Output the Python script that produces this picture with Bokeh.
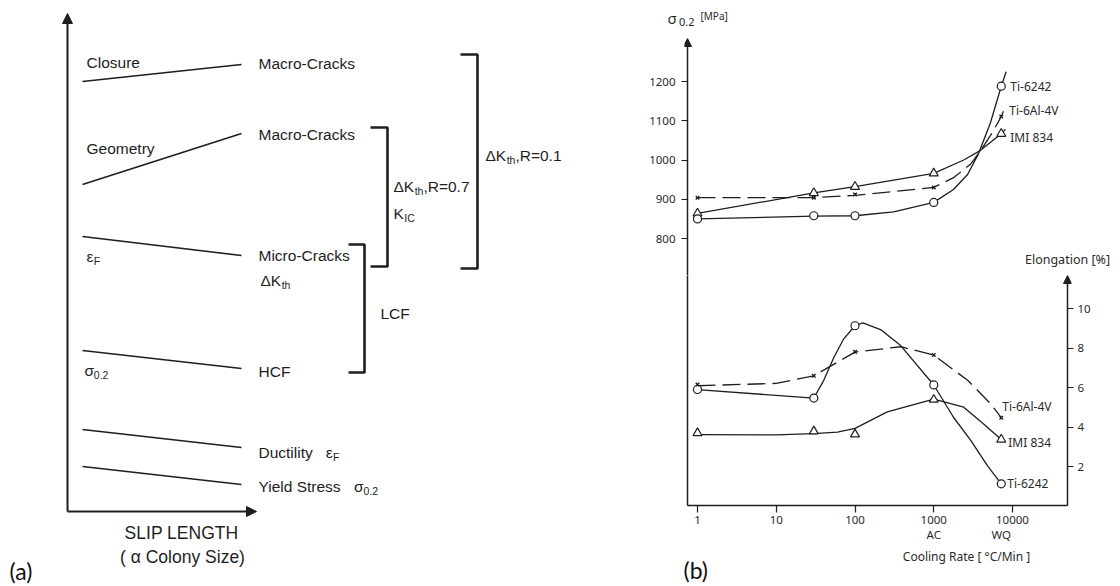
from bokeh.plotting import figure
from bokeh.layouts import row, column
from bokeh.models import (Range1d, LinearAxis, LogAxis, FixedTicker, Arrow, NormalHead,
                          NumeralTickFormatter)
from bokeh.core.properties import value
from bokeh.embed import file_html
from bokeh.resources import INLINE

INK = "#1e1e1e"

# ---------------- Panel (a): schematic (arbitrary units) ----------------
trend_x = [15, 174]                          # slip length: small -> large
trend_start = [430, 327, 275, 161, 82, 45]   # level at small slip length
trend_end = [447, 378, 256, 143, 64, 27]     # level at large slip length
axis_x_len = 189
axis_y_len = 498

# brackets: vertical x, tick start x, top, bottom
bracket_xv = [410, 320, 297]
bracket_xt = [393, 303, 281]
bracket_top = [457, 384, 267]
bracket_bot = [243, 245, 139]

# ---------------- Panel (b): data ----------------
rate = [1, 30, 100, 1000, 7200]
ys_6242 = [850, 858, 858, 892, 1188]
ys_64 = [904, 904, 912, 930, 1111]
ys_834 = [864, 916, 932, 966, 1067]
el_6242 = [5.91, 5.48, 9.13, 6.14, 1.15]
el_64 = [6.16, 6.6, 7.81, 7.65, 4.49]
el_834 = [3.71, 3.8, 3.65, 5.4, 3.39]

# drawn curves
ys_6242_cx = [1, 30, 100, 310, 1000, 1780, 2690, 3720, 5250, 7200, 8300]
ys_6242_cy = [850, 857, 858, 868, 892, 925, 963, 1017, 1095, 1188, 1225]
ys_64_cx = [1, 30, 100, 1000, 1780, 2950, 3890, 5750, 7200, 8130]
ys_64_cy = [904, 904, 910, 930, 955, 990, 1022, 1075, 1111, 1136]
ys_834_cx = [1, 30, 100, 1000, 2400, 3890, 7200, 8130]
ys_834_cy = [864, 916, 932, 966, 1000, 1024, 1067, 1078]
el_6242_cx = [1, 30, 40, 54, 72, 100, 126, 215, 380, 1000, 1780, 2950, 4800, 7200]
el_6242_cy = [5.9, 5.48, 6.36, 7.54, 8.47, 9.13, 9.27, 8.92, 8.13, 6.14, 4.51, 3.34, 2.07, 1.15]
el_64_cx = [1, 10, 30, 100, 380, 1000, 2690, 5250, 7200]
el_64_cy = [6.1, 6.22, 6.6, 7.8, 8.07, 7.65, 6.38, 5.2, 4.49]
el_834_cx = [1, 10, 30, 60, 100, 257, 1000, 2400, 4260, 7200]
el_834_cy = [3.63, 3.62, 3.68, 3.76, 3.95, 4.78, 5.42, 5.02, 4.18, 3.39]

series_names = ["Ti-6242", "Ti-6Al-4V", "IMI 834"]
mpa_ticks = [800, 900, 1000, 1100, 1200]
el_ticks = [2, 4, 6, 8, 10]
rate_ticks = [1, 10, 100, 1000, 10000]
rate_names = {1000: "AC", 7200: "WQ"}


# ---------- page-pixel helpers for panel (b) scales ----------
def lx(px):
    return 10 ** ((px - 697) / 78.75)


def mpa(py):
    return 800 + (238 - py) / 0.3925


def el(py):
    return (506.1 - py) / 19.81


def bare(**kw):
    f = figure(output_backend="svg", toolbar_location=None, title=None,
               x_axis_location=None, y_axis_location=None, **kw)
    f.grid.visible = False
    f.outline_line_color = None
    f.frame_align = False
    return f


# ====================== Panel (a) ======================
pa = bare(width=608, height=586, x_range=Range1d(-67, 541), y_range=Range1d(-75, 511),
          min_border=0)

pa.add_layout(Arrow(x_start=0, y_start=0, x_end=0, y_end=axis_y_len, line_width=2, line_color=INK,
                    end=NormalHead(size=10, fill_color=INK, line_color=INK)))
pa.add_layout(Arrow(x_start=0, y_start=0, x_end=axis_x_len, y_end=0, line_width=2, line_color=INK,
                    end=NormalHead(size=10, fill_color=INK, line_color=INK)))

pa.segment(x0=[trend_x[0]] * len(trend_start), y0=trend_start,
           x1=[trend_x[1]] * len(trend_end), y1=trend_end, line_color=INK, line_width=1.6)

bx = [[t, v, v, t] for t, v in zip(bracket_xt, bracket_xv)]
by = [[a, a, b, b] for a, b in zip(bracket_top, bracket_bot)]
pa.multi_line(bx, by, line_color=INK, line_width=2.6)

AW = {' ': 278, '(': 333, ')': 333, ',': 278, '-': 333, '.': 278, '0': 556, '1': 556, '2': 556,
      '7': 556, '=': 584, 'A': 667, 'C': 722, 'D': 722, 'F': 611, 'G': 778, 'H': 722, 'I': 278,
      'K': 667, 'L': 556, 'M': 833, 'N': 722, 'P': 667, 'R': 722, 'S': 667, 'T': 611, 'Y': 667,
      'a': 556, 'c': 500, 'd': 556, 'e': 556, 'i': 222, 'k': 500, 'l': 222, 'm': 833, 'n': 556,
      'o': 556, 'r': 333, 's': 500, 't': 278, 'u': 556, 'y': 500, 'h': 556, 'z': 500,
      'Δ': 668, 'ε': 440, 'σ': 570, 'α': 578}


def tw(s, px):
    return sum(AW.get(c, 556) for c in s) / 1000.0 * px


items = [
    (19, 449, [("Closure", "n")]),
    (191, 448, [("Macro-Cracks", "n")]),
    (19, 363, [("Geometry", "n")]),
    (191, 377, [("Macro-Cracks", "n")]),
    (19, 255, [("ε", "n"), ("F", "s")]),
    (191, 256, [("Micro-Cracks", "n")]),
    (193, 231, [("ΔK", "n"), ("th", "s")]),
    (17, 141, [("σ", "n"), ("0.2", "s")]),
    (191, 140, [("HCF", "n")]),
    (191, 59, [("Ductility", "n"), ("   ", "n"), ("ε", "n"), ("F", "s")]),
    (191, 25, [("Yield Stress", "n"), ("   ", "n"), ("σ", "n"), ("0.2", "s")]),
    (418, 356, [("ΔK", "n"), ("th", "s"), (",R=0.1", "n")]),
    (326, 325, [("ΔK", "n"), ("th", "s"), (",R=0.7", "n")]),
    (326, 298, [("K", "n"), ("IC", "s")]),
    (313, 198, [("LCF", "n")]),
]
main_px, sub_px = 15.5, 10.5
nx, ny, nt, sx, sy, st = [], [], [], [], [], []
for x0, y0, parts in items:
    cx = x0
    for t, kind in parts:
        if kind == "n":
            if t.strip():
                nx.append(cx); ny.append(y0); nt.append(t)
            cx += tw(t, main_px)
        else:
            sx.append(cx + 0.5); sy.append(y0 - 4.5); st.append(t)
            cx += tw(t, sub_px) + 0.5
FA = value("Liberation Sans")
pa.text(nx, ny, nt, text_font=FA, text_font_size=f"{main_px}px", text_baseline="middle",
        text_align="left", text_color=INK)
pa.text(sx, sy, st, text_font=FA, text_font_size=f"{sub_px}px", text_baseline="middle",
        text_align="left", text_color=INK)
pa.text([114, 115], [-21, -45], ["SLIP LENGTH", "( α Colony Size)"], text_font=FA,
        text_font_size="17.5px", text_baseline="middle", text_align="center", text_color=INK)
pa.text([-58], [-59], ["(a)"], text_font=value("Lato"), text_font_size="23px",
        text_baseline="middle", text_align="left", text_color="#111")

# ====================== Panel (b) ======================
BF = "Noto Sans"
TF = value(BF)
BC = "#2a2a2a"
W_B = 510
LW = 1.3
DASH = "18 7"
mk = dict(fill_color="white", line_color=INK, line_width=1.2)

# --- top strip: y-axis title ---
pt = bare(width=W_B, height=38, x_axis_type="log", x_range=Range1d(lx(608), lx(608 + W_B)),
          y_range=Range1d(0, 38), min_border=0)
pt.text([lx(667)], [38 - 17], ["σ"], text_font=TF, text_font_size="15px",
        text_baseline="middle", text_color=BC)
pt.text([lx(678.5)], [38 - 21], ["0.2"], text_font=TF, text_font_size="11px",
        text_baseline="middle", text_color=BC)
pt.text([lx(700)], [38 - 15], ["[MPa]"], text_font=TF, text_font_size="10px",
        text_baseline="middle", text_color=BC)

# --- upper: yield stress ---
pu = figure(width=W_B, height=237, x_axis_type="log", output_backend="svg", toolbar_location=None,
            title=None, x_axis_location=None, y_axis_location="left",
            x_range=Range1d(lx(684), lx(608 + W_B)), y_range=Range1d(mpa(275), mpa(38)),
            min_border_left=76, min_border_right=0, min_border_top=0, min_border_bottom=0)
pu.frame_align = False
pu.grid.visible = False
pu.outline_line_color = None
ya = pu.left[0]
ya.ticker = FixedTicker(ticks=mpa_ticks)
ya.axis_line_color = None
ya.major_tick_line_color = INK
ya.major_tick_line_width = 1.2
ya.major_tick_out = 3
ya.major_tick_in = 3
ya.minor_tick_line_color = None
ya.major_label_standoff = 6
ya.major_label_text_font = BF
ya.major_label_text_font_size = "11.5px"
ya.major_label_text_color = BC

pu.add_layout(Arrow(x_start=lx(687), y_start=mpa(277), x_end=lx(687), y_end=mpa(38),
                    line_width=1.5, line_color=INK,
                    end=NormalHead(size=8, fill_color=INK, line_color=INK)))
pu.line(ys_6242_cx, ys_6242_cy, line_color=INK, line_width=LW)
pu.line(ys_64_cx, ys_64_cy, line_color=INK, line_width=LW, line_dash=DASH)
pu.line(ys_834_cx, ys_834_cy, line_color=INK, line_width=LW)
pu.scatter(rate, ys_834, marker="triangle", size=9, **mk)
pu.scatter(rate, ys_6242, marker="circle", size=8, **mk)
pu.scatter(rate, ys_64, marker="x", size=5, line_color=INK, line_width=1.4)
pu.text([rate[-1]] * 3, [ys_6242[-1], ys_64[-1], ys_834[-1]], series_names,
        x_offset=[9, 8, 9], y_offset=[0, -6, 4], text_font=TF, text_font_size="12px",
        text_baseline="middle", text_align="left", text_color=BC)
pu.text([lx(1067)], [mpa(259)], ["Elongation [%]"], text_font=TF, text_font_size="12.5px",
        text_baseline="middle", text_align="center", text_color=BC)

# --- lower: elongation ---
pl = figure(width=W_B, height=273, x_axis_type="log", output_backend="svg", toolbar_location=None,
            title=None, x_axis_location="below", y_axis_location=None,
            x_range=Range1d(lx(684), lx(1071)), y_range=Range1d(el(507), el(275)),
            min_border_left=76, min_border_right=W_B + 608 - 1071, min_border_top=0,
            min_border_bottom=41)
pl.frame_align = False
pl.grid.visible = False
pl.outline_line_color = None

xa = pl.below[0]
xa.ticker = FixedTicker(ticks=rate_ticks)
xa.formatter = NumeralTickFormatter(format="0")
xa.axis_line_color = None
xa.major_tick_line_color = INK
xa.major_tick_line_width = 1.2
xa.major_tick_out = 5
xa.major_tick_in = 2
xa.minor_tick_line_color = None
xa.major_label_standoff = 3
xa.major_label_text_font = BF
xa.major_label_text_font_size = "11.5px"
xa.major_label_text_color = BC

xa2 = LogAxis(ticker=FixedTicker(ticks=list(rate_names.keys())),
              major_label_overrides=rate_names,
              axis_line_color=None, major_tick_line_color=None, minor_tick_line_color=None,
              major_tick_out=0, major_tick_in=0, major_label_standoff=0,
              major_label_text_font=BF, major_label_text_font_size="11.5px",
              major_label_text_color=BC)
pl.add_layout(xa2, "below")

yr = LinearAxis(ticker=FixedTicker(ticks=el_ticks), axis_line_color=None,
                major_tick_line_color=INK, major_tick_line_width=1.2, major_tick_out=2,
                major_tick_in=4, minor_tick_line_color=None, major_label_standoff=4,
                major_label_text_font=BF, major_label_text_font_size="11.5px",
                major_label_text_color=BC)
pl.add_layout(yr, "right")

# axis lines drawn inside the frame
pl.segment(x0=[lx(687), lx(687)], y0=[el(505), el(505)], x1=[lx(1067), lx(687)],
           y1=[el(505), el(273)], line_color=INK, line_width=1.5)
pl.add_layout(Arrow(x_start=lx(1067), y_start=el(505), x_end=lx(1067), y_end=el(275),
                    line_width=1.5, line_color=INK,
                    end=NormalHead(size=8, fill_color=INK, line_color=INK)))

pl.line(el_6242_cx, el_6242_cy, line_color=INK, line_width=LW)
pl.line(el_64_cx, el_64_cy, line_color=INK, line_width=LW, line_dash=DASH)
pl.line(el_834_cx, el_834_cy, line_color=INK, line_width=LW)
pl.scatter(rate, el_834, marker="triangle", size=9, **mk)
pl.scatter(rate, el_6242, marker="circle", size=8, **mk)
pl.scatter(rate, el_64, marker="x", size=5, line_color=INK, line_width=1.4)
pl.text([rate[-1]] * 3, [el_6242[-1], el_64[-1], el_834[-1]], series_names,
        x_offset=[6, 1, 7], y_offset=[0, -11, 3], text_font=TF, text_font_size="12px",
        text_baseline="middle", text_align="left", text_color=BC)

# --- bottom strip: x-axis title and panel tag ---
H_BOT = 36
pbt = bare(width=W_B, height=H_BOT, x_axis_type="log", x_range=Range1d(lx(608), lx(608 + W_B)),
           y_range=Range1d(0, H_BOT), min_border=0)
top_bot = 548
pbt.text([lx(966)], [H_BOT - (556 - top_bot)], ["Cooling Rate [ °C/Min ]"], text_font=TF,
         text_font_size="12px", text_baseline="middle", text_align="center", text_color=BC)
pbt.text([lx(683)], [H_BOT - (569 - top_bot)], ["(b)"], text_font=value("Lato"),
         text_font_size="23px", text_baseline="middle", text_align="left", text_color="#111")

layout = row(pa, column(pt, pu, pl, pbt))
open("out.html", "w").write(file_html(layout, INLINE))
